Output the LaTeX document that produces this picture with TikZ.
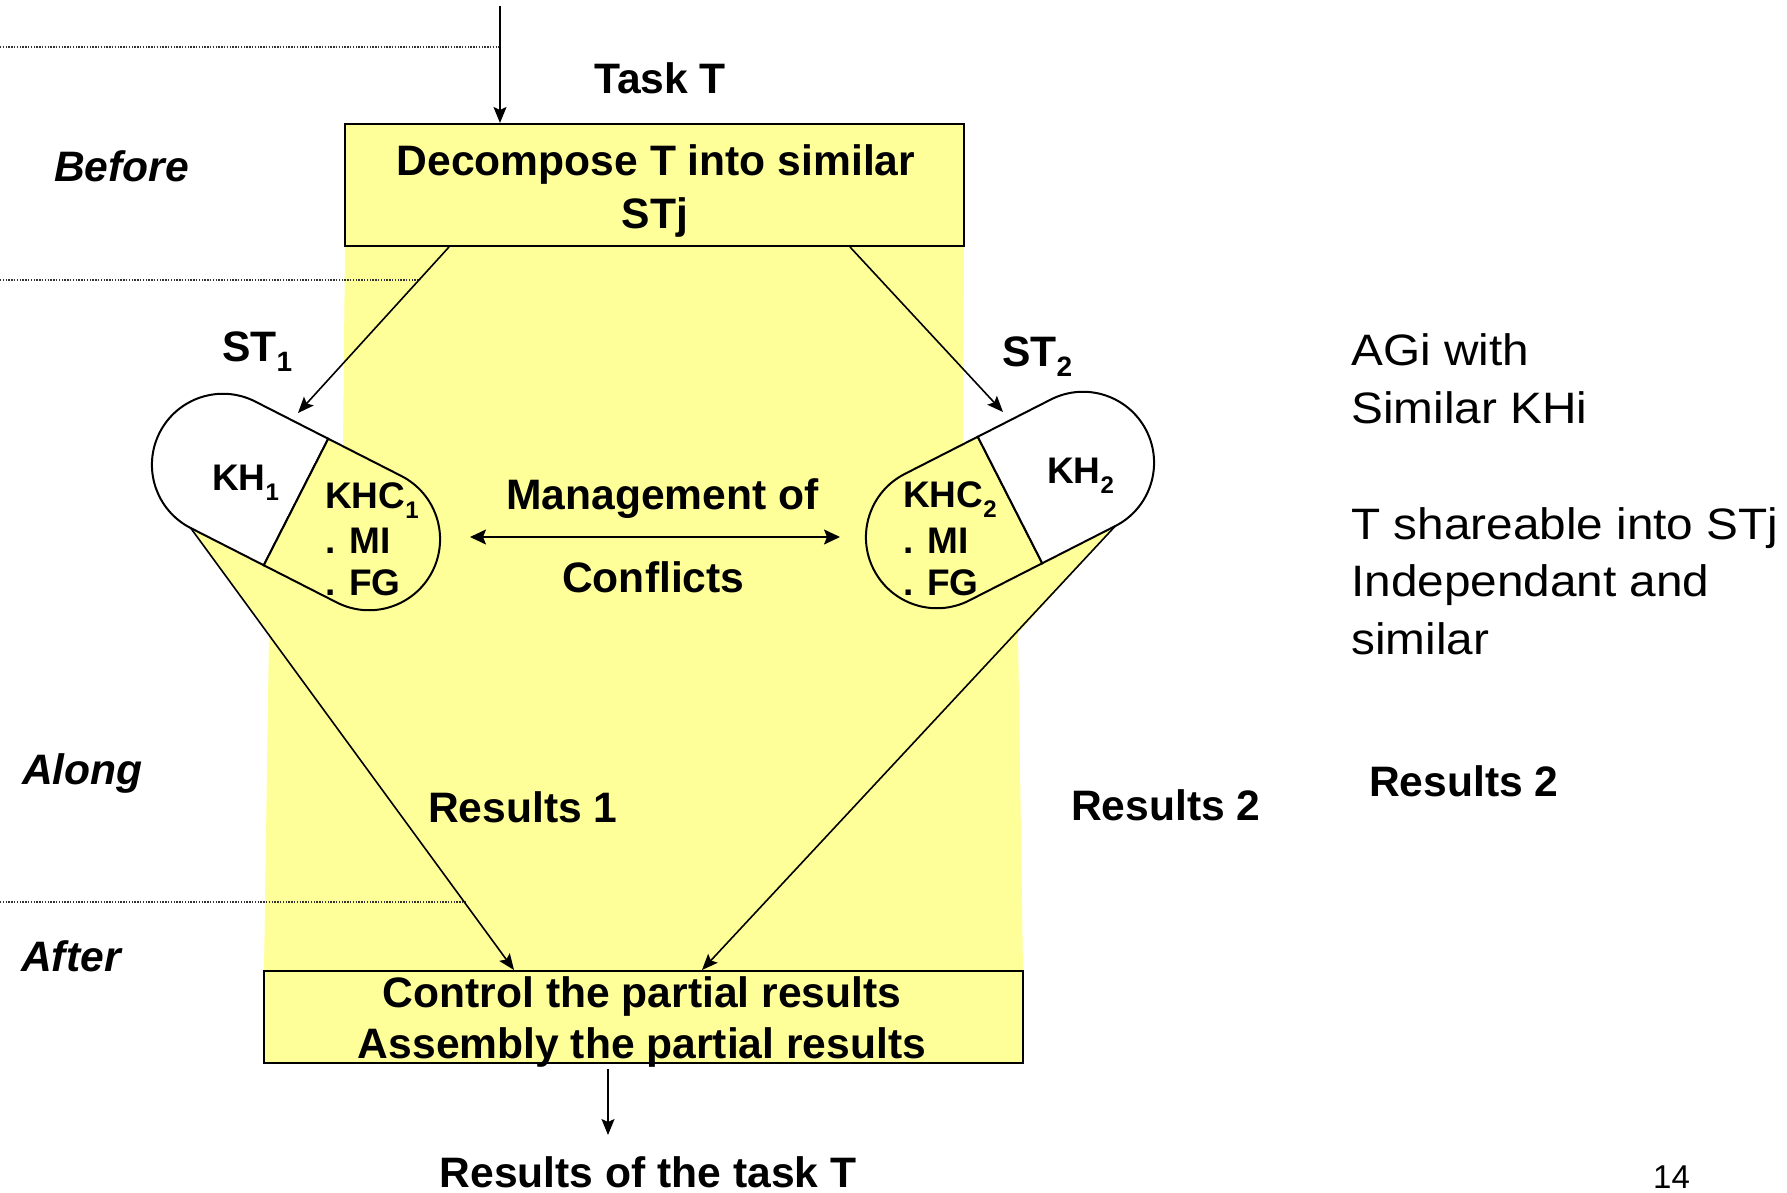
\documentclass[tikz,border=0pt]{standalone}
\usepackage{fontspec}
\setmainfont{Liberation Sans}
\newfontfamily\notefont{Liberation Sans}[FakeStretch=1.085]
\usetikzlibrary{arrows.meta}

\definecolor{paleyellow}{RGB}{255,255,153}

% lowered index: #1 drop (pt), #2 size (pt), #3 text
\newcommand\lowidx[3]{\raisebox{-#1pt}{\fontsize{#2}{#2}\selectfont #3}}

\begin{document}
\begin{tikzpicture}[x=1pt,y=1pt,
  every node/.style={inner sep=0pt},
  bold/.style={font=\fontsize{42.6}{50}\selectfont\bfseries},
  phase/.style={font=\fontsize{42.6}{50}\selectfont\bfseries\itshape, anchor=base west},
  plain/.style={font=\notefont\fontsize{44}{52}\selectfont, anchor=base west},
  capsule text/.style={font=\fontsize{37}{44}\selectfont\bfseries, anchor=base west},
  box/.style={draw, line width=2pt, fill=paleyellow},
  conn/.style={line width=1.6pt, -{Stealth[length=16pt,width=13pt,inset=3pt]}},
  biconn/.style={line width=1.6pt, {Stealth[length=16pt,width=15pt,inset=3pt]}-{Stealth[length=16pt,width=15pt,inset=3pt]}},
  phase line/.style={line width=1.3pt, black!80, dash pattern=on 1.4pt off 1.4pt},
  capsule/.style={draw, line width=2pt}]

\fill[white] (0,0) rectangle (1787,-1193);
\useasboundingbox (0,0) rectangle (1787,-1193);

% shaded working area behind the flow
\fill[paleyellow] (345,-247) -- (964,-247) -- (963,-445) -- (1115,-526)
  -- (1018,-633) -- (1023,-971) -- (264,-971) -- (269,-633)
  -- (191,-528) -- (343,-447) -- cycle;

% phase separators
\coordinate (taskin) at (500,-6);
\coordinate (sepA) at (0,-47);
\coordinate (sepB) at (0,-280);
\coordinate (sepBend) at (420,-280);
\coordinate (sepC) at (0,-902);
\coordinate (sepCend) at (466,-902);
\draw[phase line] (sepA) -- (sepA -| taskin);
\draw[phase line] (sepB) -- (sepBend);
\draw[phase line] (sepC) -- (sepCend);

% decomposition box
\node[box, minimum width=619pt, minimum height=122pt] (decomp) at (654.5,-185) {};
\node[bold, anchor=base] (decompA) at (656,-176) {Decompose T into similar};
\node[bold, anchor=base] (decompB) at (655,-228) {STj};
\node[bold, anchor=base west] (task) at (594,-94) {Task T};
\draw[conn] (taskin) -- (taskin |- decomp.north);

% control / assembly box
\node[box, minimum width=759pt, minimum height=92pt] (ctrl) at (643.5,-1017) {};
\node[bold, anchor=base] (ctrlA) at (642,-1007) {Control the partial results};
\node[bold, anchor=base] (ctrlB) at (642,-1058) {Assembly the partial results};

% capsule of agent 1
\begin{scope}[shift={(296,-502)}, rotate=-27]
  \draw[capsule, fill=white] (0,71) -- (-82,71) arc[start angle=90, end angle=270, radius=71] -- (0,-71) -- cycle;
  \draw[capsule, fill=paleyellow] (0,-71) -- (82,-71) arc[start angle=-90, end angle=90, radius=71] -- (0,71) -- cycle;
  \coordinate (k1end) at (-82,-71);
\end{scope}

% capsule of agent 2
\begin{scope}[shift={(1010,-500)}, rotate=27]
  \draw[capsule, fill=paleyellow] (0,71) -- (-82,71) arc[start angle=90, end angle=270, radius=71] -- (0,-71) -- cycle;
  \draw[capsule, fill=white] (0,-71) -- (82,-71) arc[start angle=-90, end angle=90, radius=71] -- (0,71) -- cycle;
  \coordinate (k2end) at (82,-71);
\end{scope}

\node[capsule text] (kh1) at (212,-490) {KH\lowidx{10}{24}{1}};
\node[capsule text] (khc1) at (325,-508) {KHC\lowidx{10}{24}{1}};
\node[capsule text] (mi1) at (325,-553) {. MI};
\node[capsule text] (fg1) at (325,-595) {. FG};

\node[capsule text] (kh2) at (1047,-483) {KH\lowidx{10}{24}{2}};
\node[capsule text] (khc2) at (903,-507) {KHC\lowidx{10}{24}{2}};
\node[capsule text] (mi2) at (903,-553) {. MI};
\node[capsule text] (fg2) at (903,-595) {. FG};

% sub-task labels and arrows
\node[bold, anchor=base west] (st1) at (222,-361) {ST\lowidx{10}{28}{1}};
\node[bold, anchor=base west] (st2) at (1002,-366) {ST\lowidx{10}{28}{2}};
\coordinate (st1in) at (298,-413);
\coordinate (st2in) at (1003,-412);
\draw[conn] ([xshift=105pt]decomp.south west) -- (st1in);
\draw[conn] ([xshift=-115pt]decomp.south east) -- (st2in);

% conflict management
\coordinate (mleft) at (470,-537);
\coordinate (mright) at (840,-537);
\draw[biconn] (mleft) -- (mright);
\node[bold, anchor=base west] (mgmt) at (506,-509) {Management of};
\node[bold, anchor=base west] (confl) at (562,-592) {Conflicts};

% results
\draw[conn] (k1end) -- ([xshift=251pt]ctrl.north west);
\draw[conn] (k2end) -- ([xshift=439pt]ctrl.north west);
\node[bold, anchor=base west] (res1) at (428,-822) {Results 1};
\node[bold, anchor=base west] (res2) at (1071,-820) {Results 2};

\coordinate (outtip) at (608,-1135);
\draw[conn] ([yshift=-5pt]outtip |- ctrl.south) -- (outtip);
\node[bold, anchor=base] (final) at (648,-1187) {Results of the task T};

% phase names
\node[phase] (before) at (54,-182) {Before};
\node[phase] (along) at (22,-784) {Along};
\node[phase] (after) at (21,-971) {After};

% side notes
\node[plain] (noteA) at (1351,-365) {AGi with};
\node[plain] (noteB) at (1351,-423) {Similar KHi};
\node[plain] (noteC) at (1351,-539) {T shareable into STj};
\node[plain] (noteD) at (1351,-596) {Independant and};
\node[plain] (noteE) at (1351,-654) {similar};
\node[bold, anchor=base west] (res2b) at (1369,-796) {Results 2};

\node[font=\fontsize{33}{38}\selectfont, anchor=base west] (pageno) at (1653,-1188) {14};
\end{tikzpicture}
\end{document}
